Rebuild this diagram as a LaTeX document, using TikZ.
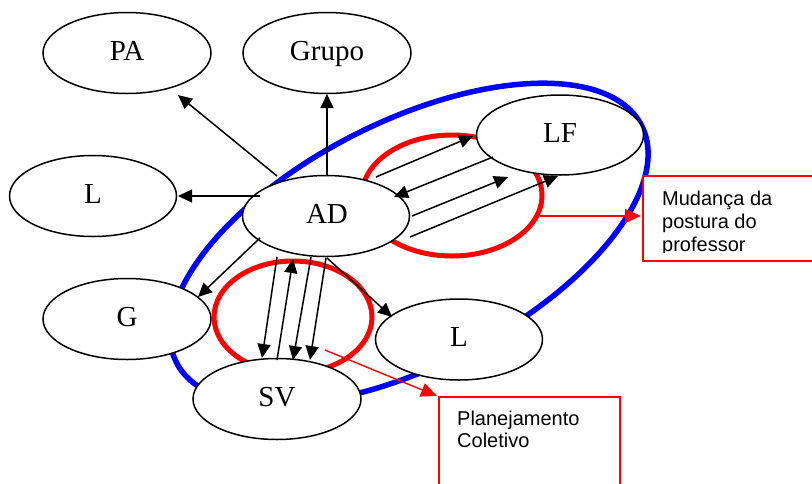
\documentclass[tikz,border=0pt]{standalone}
\usepackage{fontspec}
\setmainfont{Liberation Serif}
\newfontfamily\boxfont{Liberation Sans}
\usetikzlibrary{shapes.geometric,arrows.meta,calc}
\begin{document}
\begin{tikzpicture}[x=1pt,y=-1pt,
  ell/.style={ellipse,draw=black,line width=1.5pt,fill=white,inner sep=0pt,minimum width=167pt,minimum height=81pt},
  lbl/.style={anchor=base,font=\fontsize{29}{31}\selectfont,inner sep=0pt},
  arr/.style={line width=1.5pt,-{Triangle[length=14pt,width=13pt]}},
  redell/.style={ellipse,draw=red,line width=5pt,inner sep=0pt},
  redarr/.style={draw=red,line width=1.4pt,-{Triangle[length=16pt,width=14pt]}},
  redbox/.style={draw=red,line width=1.6pt,fill=white,rectangle,inner sep=0pt,anchor=north west},
  btxt/.style={anchor=base west,font=\boxfont\fontsize{20}{23}\selectfont,inner sep=0pt}]
\useasboundingbox (0,0) rectangle (812,483);
\clip (0,0) rectangle (812,483);
\fill[white] (0,0) rectangle (812,483);
% big blue ellipse
\draw[blue,line width=5.5pt,rotate around={27:(409,244)}] (409,244) ellipse [x radius=261,y radius=122];
% red ellipses
\node[redell,minimum width=180pt,minimum height=121pt] (R1) at (452,195.5) {};
\node[redell,minimum width=158pt,minimum height=112pt] (R2) at (293,317) {};
% black ellipses
\node[ell,minimum width=168pt] (PA) at (127,53) {};
\node[ell,minimum width=168pt] (Grupo) at (327,53) {};
\node[ell] (L1) at (93,196) {};
\node[ell] (AD) at (326,216) {};
\node[ell,minimum height=80pt] (LF) at (560,135) {};
\node[ell,minimum width=168pt] (G) at (127,319) {};
\node[ell,minimum width=168pt] (SV) at (277,399) {};
\node[ell] (L2) at (459,339.5) {};
% labels
\node[lbl] (tPA) at ($(PA)+(0,7)$) {PA};
\node[lbl] (tGrupo) at ($(Grupo)+(0,7)$) {Grupo};
\node[lbl] (tL1) at ($(L1)+(0,7)$) {L};
\node[lbl] (tAD) at ($(AD)+(1,7)$) {AD};
\node[lbl] (tLF) at ($(LF)+(0,7)$) {LF};
\node[lbl] (tG) at ($(G)+(0,7)$) {G};
\node[lbl] (tSV) at ($(SV)+(0,7)$) {SV};
\node[lbl] (tL2) at ($(L2)+(0,7)$) {L};
% arrows from AD
\draw[arr] ($(AD)+(-49,-40)$) -- ($(PA)+(51,42)$);
\draw[arr] ($(AD)+(1,-40)$) -- ($(Grupo)+(0,41)$);
\draw[arr] ($(AD)+(-66,-20)$) -- ($(L1)+(85,0)$);
\draw[arr] ($(AD)+(-66,22)$) -- ($(G)+(71,-22)$);
\draw[arr] ($(AD)+(1,42)$) -- ($(L2)+(-67,-22.5)$);
% AD <-> SV
\draw[arr] ($(AD)+(-49,41)$) -- ($(SV)+(-15,-41)$);
\draw[arr] ($(SV)+(0,-39)$) -- ($(AD)+(-33,43)$);
\draw[arr] ($(AD)+(-15,41)$) -- ($(SV)+(16,-39)$);
\draw[arr] ($(AD)+(0,42)$) -- ($(SV)+(33,-39)$);
% AD <-> LF
\draw[arr] ($(AD)+(50,-39)$) -- ($(LF)+(-87,1)$);
\draw[arr] ($(LF)+(-67,22)$) -- ($(AD)+(68,-19)$);
\draw[arr] ($(AD)+(86,0)$) -- ($(LF)+(-52,42)$);
\draw[arr] ($(AD)+(84,21)$) -- ($(LF)+(-2,41)$);
% red boxes
\node[redbox,minimum width=200pt,minimum height=85pt] (B1) at (642,175) {};
\node[redbox,minimum width=181pt,minimum height=120pt] (B2) at (438,396) {};
\draw[redarr] ($(R1)+(88,20.5)$) -- ($(B1.north west)+(-1,41)$);
\draw[redarr] ($(R2)+(32,33)$) -- ($(B2.north west)+(-1,0)$);
\begin{scope}
\clip (642,175) rectangle (812,252);
\node[btxt] (m1) at (662,205.5) {Mudança da};
\node[btxt] (m2) at (662,228.5) {postura do};
\node[btxt] (m3) at (662,251.5) {professor};
\end{scope}
\node[btxt] (p1) at (457,425) {Planejamento};
\node[btxt] (p2) at (457,447.5) {Coletivo};
\end{tikzpicture}
\end{document}
